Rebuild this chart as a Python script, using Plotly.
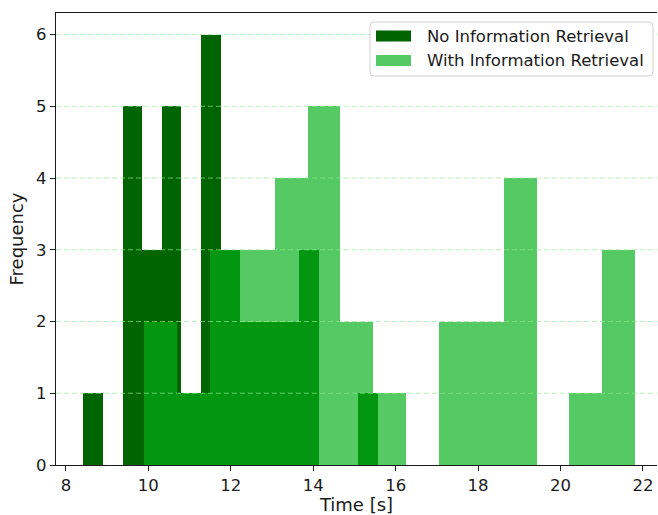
import numpy as np
import plotly.graph_objects as go

# Histogram results (15 equal-width bins per group)
no_ir_label = "No Information Retrieval"
no_ir_range = (8.42, 15.57)
no_ir_counts = [1, 0, 5, 3, 5, 1, 6, 3, 2, 2, 2, 3, 0, 0, 1]

with_ir_label = "With Information Retrieval"
with_ir_range = (9.90, 21.80)
with_ir_counts = [2, 1, 3, 3, 4, 5, 2, 1, 0, 2, 2, 4, 0, 1, 3]

x_ticks = [8, 10, 12, 14, 16, 18, 20, 22]
y_ticks = [0, 1, 2, 3, 4, 5, 6]

DARK = "rgb(0,100,0)"
LIGHT = "rgba(5,175,25,0.68)"
GRID = "rgba(144,238,144,0.65)"
FONT = "DejaVu Sans"
FS = 16.5
FS_TITLE = 18


def bin_geometry(rng, counts):
    edges = np.linspace(rng[0], rng[1], len(counts) + 1)
    centers = (edges[:-1] + edges[1:]) / 2
    widths = np.diff(edges)
    return centers, widths


fig = go.Figure()
for label, rng, counts, color in [
    (no_ir_label, no_ir_range, no_ir_counts, DARK),
    (with_ir_label, with_ir_range, with_ir_counts, LIGHT),
]:
    cx, w = bin_geometry(rng, counts)
    fig.add_trace(go.Bar(
        x=cx, y=counts, width=w, name=label,
        marker=dict(color=color, line=dict(width=0)),
        showlegend=False,
    ))

# plot-area geometry in pixels
W, H = 658, 515
L, R, T, B = 56, 1, 13, 50
pw, ph = W - L - R, H - T - B


def px_x(p):
    return (p - L) / pw


def px_y(p):
    return (H - B - p) / ph


shapes = []
# dashed horizontal grid drawn over the bars
for v in y_ticks[1:]:
    shapes.append(dict(type="line", xref="paper", yref="y", x0=0, x1=1, y0=v, y1=v,
                       line=dict(color=GRID, width=1, dash="5px,3px"), layer="above"))

# legend frame
bx0, bx1, by0, by1 = px_x(370), px_x(653), px_y(76), px_y(22)
rx, ry = 4 / pw, 4 / ph
path = (f"M{bx0+rx},{by0} L{bx1-rx},{by0} Q{bx1},{by0} {bx1},{by0+ry} "
        f"L{bx1},{by1-ry} Q{bx1},{by1} {bx1-rx},{by1} L{bx0+rx},{by1} "
        f"Q{bx0},{by1} {bx0},{by1-ry} L{bx0},{by0+ry} Q{bx0},{by0} {bx0+rx},{by0} Z")
shapes.append(dict(type="path", xref="paper", yref="paper", path=path,
                   fillcolor="rgba(255,255,255,0.9)", line=dict(color="#d0d0d0", width=1),
                   layer="above"))

annotations = []
for (label, color, cy) in [(no_ir_label, DARK, 36), (with_ir_label, LIGHT, 60.5)]:
    shapes.append(dict(type="rect", xref="paper", yref="paper",
                       x0=px_x(376), x1=px_x(411), y0=px_y(cy + 5.5), y1=px_y(cy - 5.5),
                       fillcolor=color, line=dict(width=0), layer="above"))
    annotations.append(dict(xref="paper", yref="paper", x=px_x(425), y=px_y(cy),
                            text=label, showarrow=False, xanchor="left", yanchor="middle",
                            font=dict(family=FONT, size=FS, color="#1a1a1a")))

fig.update_layout(
    width=W, height=H,
    margin=dict(l=L, r=R, t=T, b=B),
    paper_bgcolor="white", plot_bgcolor="white",
    barmode="overlay", bargap=0,
    font=dict(family=FONT, size=FS, color="#1a1a1a"),
    shapes=shapes, annotations=annotations,
    xaxis=dict(
        range=[7.76, 22.34], tickvals=x_ticks, showgrid=False, zeroline=False,
        showline=True, linecolor="#1a1a1a", linewidth=1.2, mirror=True,
        ticks="outside", ticklen=5, tickwidth=1.2, tickcolor="#1a1a1a",
        title=dict(text="Time [s]", standoff=3, font=dict(size=FS_TITLE)),
    ),
    yaxis=dict(
        range=[0, 6.3], tickvals=y_ticks, showgrid=False, zeroline=False,
        showline=True, linecolor="#1a1a1a", linewidth=1.2,
        ticks="outside", ticklen=5, tickwidth=1.2, tickcolor="#1a1a1a",
        title=dict(text="Frequency", standoff=7, font=dict(size=FS_TITLE)),
    ),
)

fig.write_html("out.html")
